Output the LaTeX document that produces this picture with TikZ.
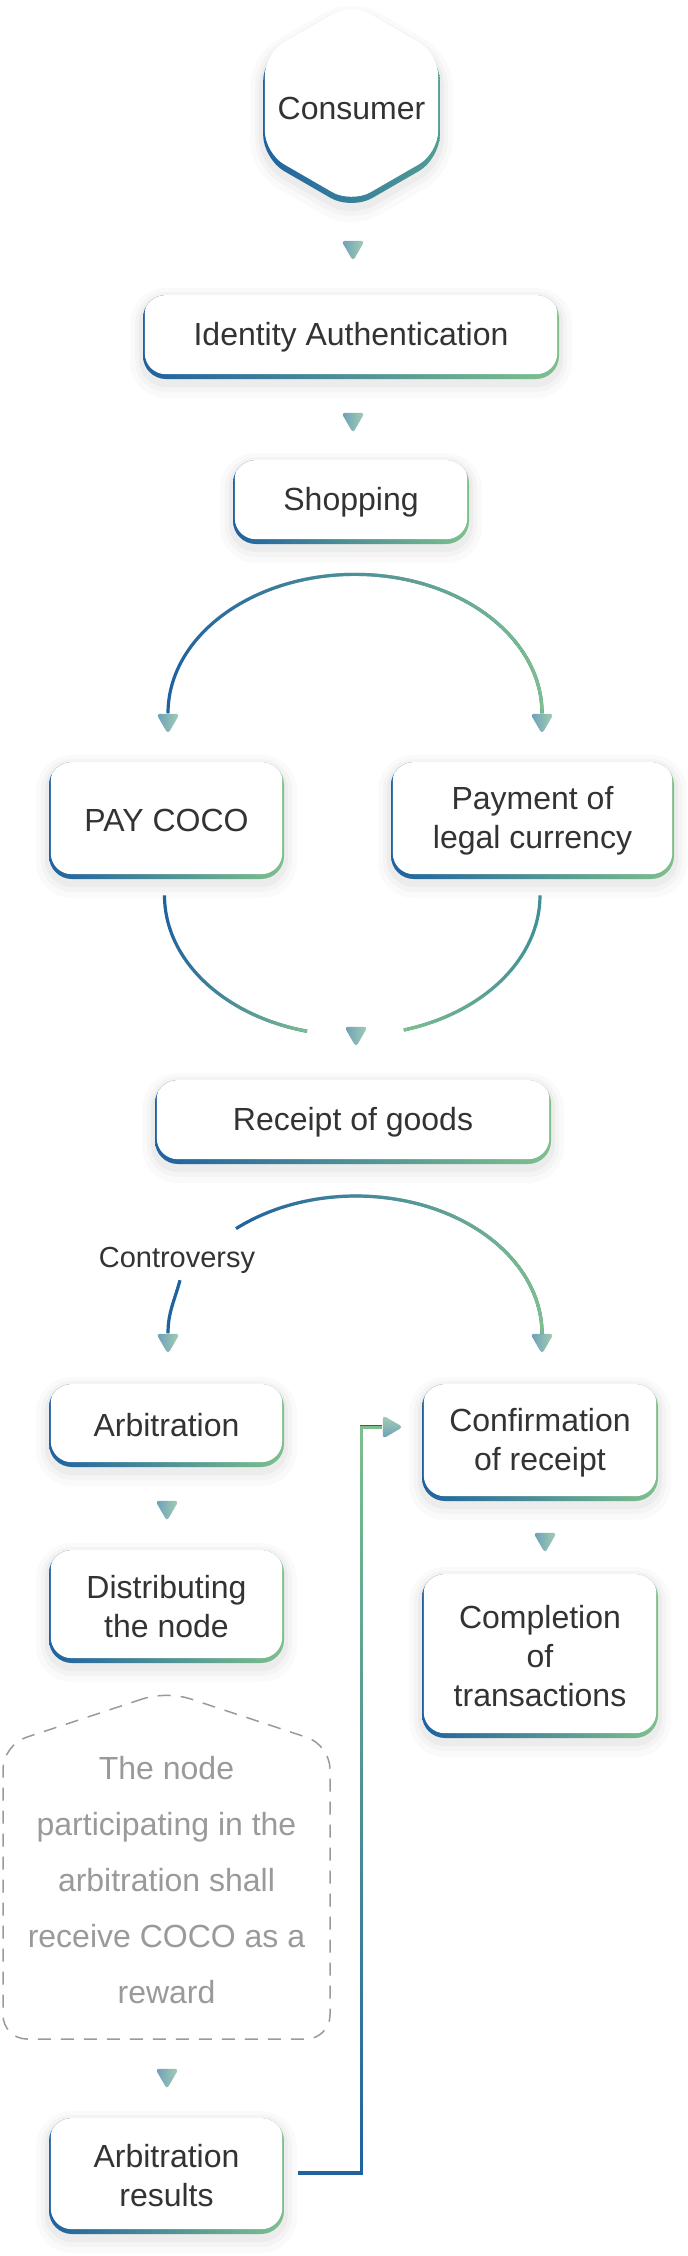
\documentclass[tikz,border=0pt]{standalone}
\usepackage{fontspec}
\setmainfont{Liberation Sans}
\usepackage{xcolor}
\usepackage{tikz}
\usetikzlibrary{shapes.geometric}
\usetikzlibrary{fadings}
\definecolor{cocoblue}{HTML}{1F62A0}
\definecolor{cocogreen}{HTML}{7EC08C}
\definecolor{cocoteal}{HTML}{3F8F97}
\definecolor{tipblue}{HTML}{6C9DBA}
\definecolor{tipgreen}{HTML}{A4D0B2}
\definecolor{cocotext}{HTML}{333333}
\definecolor{cocogray}{HTML}{9A9A9A}
\tikzfading[name=fade_right, left color=transparent!100, right color=transparent!0]
\tikzfading[name=fade_left, left color=transparent!0, right color=transparent!100]
\tikzfading[name=fade_up, top color=transparent!0, bottom color=transparent!100]
\tikzset{ card_shadow/.style = {
    preaction={draw=black, draw opacity=0.02, line width=13pt, transform canvas={yshift=-3pt}},
    preaction={draw=black, draw opacity=0.025, line width=8pt, transform canvas={yshift=-2.5pt}},
    preaction={draw=black, draw opacity=0.03, line width=4pt, transform canvas={yshift=-2pt}}} }
\tikzset{ stepbox/.style = {rectangle, rounded corners=11.5pt, minimum height=42pt, inner sep=0pt, align=center, text=cocotext, font=\fontsize{16}{19.5}\selectfont, card_shadow,
    path picture={
      \shade[left color=cocoblue, right color=cocogreen] (path picture bounding box.south west) rectangle (path picture bounding box.north east);
      \fill[white, rounded corners=10.5pt] ([xshift=0.9pt, yshift=2.4pt]path picture bounding box.south west) rectangle ([xshift=-0.9pt, yshift=1pt]path picture bounding box.north east);
    }} }
\tikzset{ hexa_text/.style = {text=cocotext, font=\fontsize{16}{19.5}\selectfont} }
\tikzset{ tip_down/.style = {regular polygon, regular polygon sides=3, shape border rotate=180, minimum size=13.5pt, inner sep=0pt, rounded corners=1.8pt, left color=tipblue, right color=tipgreen} }
\tikzset{ tip_right/.style = {regular polygon, regular polygon sides=3, shape border rotate=-90, minimum size=13.5pt, inner sep=0pt, rounded corners=1.8pt, top color=tipgreen, bottom color=tipblue} }
\tikzset{ note/.style = {text=cocotext, font=\fontsize{14.5}{17}\selectfont} }
\tikzset{ reward_text/.style = {align=center, inner sep=0pt, text=cocogray, font=\fontsize{16}{28}\selectfont} }
\tikzset{ reward_line/.style = {draw=cocogray, line width=0.75pt, dash pattern=on 6.5pt off 5pt, rounded corners=12pt} }
\tikzset{ flow/.style = {line width=1.6pt, draw=cocoblue} }
\tikzset{ flow_fade/.style = {flow, postaction={draw=cocogreen, path fading=#1}} }

\begin{document}
\begin{tikzpicture}[x=0.5pt, y=0.5pt]
    \useasboundingbox (0,0) rectangle (688,-2256);
    \fill[white] (0,0) rectangle (688,-2256);

    % consumer hexagon
    \coordinate (cCons) at (351.5,-108);
    \path[card_shadow, left color=cocoblue, right color=cocoteal!70!cocogreen, rounded corners=12pt] (cCons) +(30:51pt) -- +(90:51pt) -- +(150:51pt) -- +(210:51pt) -- +(270:51pt) -- +(330:51pt) -- cycle;
    \fill[white, rounded corners=11pt] ([yshift=2.4pt]cCons) +(30:50pt) -- +(90:50pt) -- +(150:50pt) -- +(210:50pt) -- +(270:50pt) -- +(330:50pt) -- cycle;
    \node [style=hexa_text] (Cons) at (cCons) {Consumer};

    \node [style=tip_down] (tAuth) at (353,-247.5) {};
    \node [style=stepbox, minimum width=208pt] (Auth) at (351,-337) {Identity Authentication};
    \node [style=tip_down] (tShop) at (353,-419.5) {};
    \node [style=stepbox, minimum width=118pt] (Shop) at (351,-502) {Shopping};

    % two ways of paying
    \node [style=tip_down] (tCoco) at (168,-720.5) {};
    \node [style=tip_down] (tFiat) at (542,-720.5) {};
    \draw[flow_fade=fade_right] (tCoco.north) arc[start angle=180, end angle=0, x radius=187, y radius=139];
    \node [style=stepbox, minimum width=117.5pt, minimum height=58.5pt] (Coco) at (166.5,-820.5) {PAY COCO};
    \node [style=stepbox, minimum width=141.5pt, minimum height=58.5pt] (Fiat) at (532.5,-820.5) {Payment of\\legal currency};
    \draw[flow_fade=fade_right] ([xshift=-1pt, yshift=-8pt]Coco.south) arc[start angle=180, end angle=256, x radius=188, y radius=140];
    \draw[flow_fade=fade_left, draw=cocoteal] ([xshift=3.75pt, yshift=-8pt]Fiat.south) arc[start angle=0, end angle=-74, x radius=188, y radius=140];
    \node [style=tip_down] (tRecv) at (356,-1033.5) {};
    \node [style=stepbox, minimum width=198pt] (Recv) at (353,-1122) {Receipt of goods};

    % dispute or not
    \coordinate (cSplit) at (236,-1228.6);
    \node [style=note] (Disp) at (177,-1260) {Controversy};
    \node [style=tip_down] (tArb) at (168,-1340.5) {};
    \node [style=tip_down] (tConf) at (542,-1340.5) {};
    \draw[flow_fade=fade_right] (cSplit) arc[start angle=130.2, end angle=0, x radius=186, y radius=138];
    \draw[flow] ([xshift=1.5pt]Disp.south) to[out=-105, in=90] (tArb.north);

    \node [style=stepbox, minimum width=117.5pt, minimum height=41.5pt] (Arb) at (166.5,-1425.5) {Arbitration};
    \node [style=stepbox, minimum width=118pt, minimum height=58.5pt] (Conf) at (540,-1442.5) {Confirmation\\of receipt};
    \node [style=tip_down] (tDist) at (167,-1507.5) {};
    \node [style=tip_down] (tDone) at (545,-1539.5) {};
    \node [style=stepbox, minimum width=117.5pt, minimum height=56.5pt] (Dist) at (166.5,-1606.5) {Distributing\\the node};
    \node [style=stepbox, minimum width=118pt, minimum height=82pt] (Done) at (540,-1656) {Completion\\of\\transactions};

    % reward note
    \draw[reward_line] (166.5,-1691) -- (3,-1745) -- (3,-2039) -- (330,-2039) -- (330,-1745) -- cycle;
    \node [style=reward_text] (Rew) at (166.5,-1880) {The node\\participating in the\\arbitration shall\\receive COCO as a\\reward};
    \node [style=tip_down] (tRes) at (167,-2075.5) {};
    \node [style=stepbox, minimum width=117.5pt, minimum height=58pt] (Res) at (166.5,-2176) {Arbitration\\results};

    \node [style=tip_right] (tIn) at (389.5,-1427) {};
    \draw[flow_fade=fade_up] ([xshift=7pt, yshift=1.5pt]Res.east) -| ([xshift=-10.5pt]tIn.west) -- (tIn.west);
\end{tikzpicture}
\end{document}
